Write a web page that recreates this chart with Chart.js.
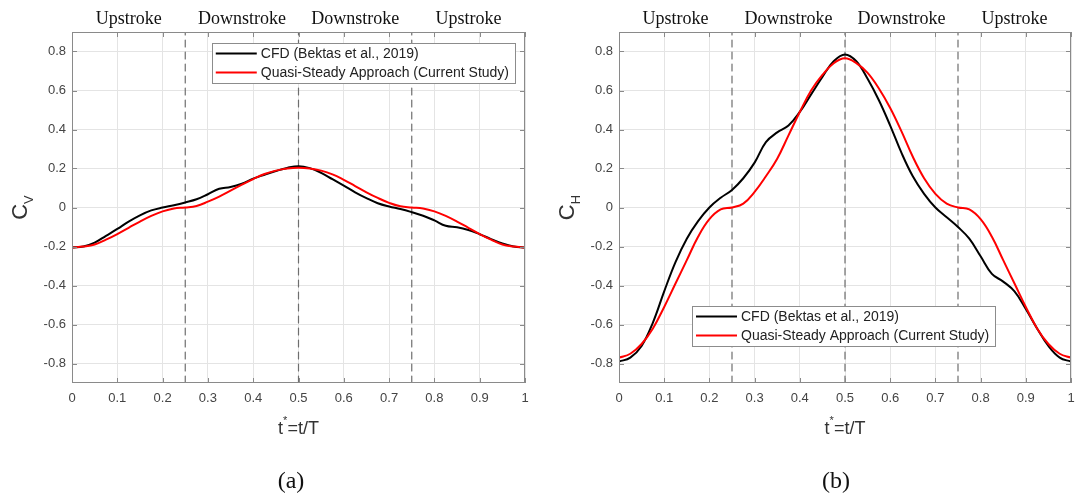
<!DOCTYPE html>
<html>
<head>
<meta charset="utf-8">
<script src="https://cdn.jsdelivr.net/npm/chart.js@4.4.1/dist/chart.umd.min.js"></script>
<style>
    html, body { margin: 0; padding: 0; background: #fff; }
    body { width: 1083px; height: 497px; position: relative; overflow: hidden; }
    canvas { position: absolute; top: 0; }
    #cv-chart { left: 0; }
    #ch-chart { left: 547px; }
</style>
</head>
<body>
<canvas id="cv-chart" width="540" height="497"></canvas>
<canvas id="ch-chart" width="536" height="497"></canvas>
<script>
// non-dimensional time over one flapping period
const tStar = [
    0, 0.025, 0.05, 0.075, 0.1, 0.125, 0.15, 0.175, 0.2, 0.225,
    0.25, 0.275, 0.3, 0.325, 0.35, 0.375, 0.4, 0.425, 0.45, 0.475,
    0.5, 0.525, 0.55, 0.575, 0.6, 0.625, 0.65, 0.675, 0.7, 0.725,
    0.75, 0.775, 0.8, 0.825, 0.85, 0.875, 0.9, 0.925, 0.95, 0.975, 1
];

// vertical force coefficient C_V
const cvCfd = [
    -0.205, -0.200, -0.180, -0.145, -0.110, -0.072, -0.040, -0.015, 0.000, 0.012,
    0.026, 0.042, 0.068, 0.096, 0.105, 0.122, 0.148, 0.168, 0.187, 0.203,
    0.212, 0.202, 0.178, 0.145, 0.112, 0.078, 0.048, 0.022, 0.005, -0.008,
    -0.024, -0.042, -0.066, -0.094, -0.101, -0.115, -0.137, -0.162, -0.185, -0.200, -0.205
];
const cvQuasi = [
    -0.205, -0.200, -0.190, -0.165, -0.136, -0.104, -0.072, -0.043, -0.020, -0.005,
    0.000, 0.008, 0.030, 0.056, 0.086, 0.117, 0.146, 0.172, 0.189, 0.200,
    0.204, 0.200, 0.189, 0.170, 0.142, 0.110, 0.078, 0.049, 0.024, 0.006,
    0.000, -0.005, -0.020, -0.043, -0.072, -0.104, -0.136, -0.165, -0.190, -0.200, -0.205
];

// horizontal force coefficient C_H
const chCfd = [
    -0.79, -0.77, -0.71, -0.59, -0.43, -0.28, -0.16, -0.07, 0.00, 0.05,
    0.09, 0.15, 0.23, 0.335, 0.385, 0.42, 0.49, 0.58, 0.67, 0.75,
    0.785, 0.75, 0.66, 0.55, 0.42, 0.28, 0.16, 0.07, 0.00, -0.05,
    -0.10, -0.16, -0.25, -0.34, -0.38, -0.43, -0.52, -0.62, -0.71, -0.77, -0.79
];
const chQuasi = [
    -0.77, -0.75, -0.70, -0.62, -0.51, -0.39, -0.27, -0.15, -0.06, -0.01,
    0.00, 0.02, 0.08, 0.16, 0.25, 0.37, 0.49, 0.60, 0.68, 0.74,
    0.765, 0.74, 0.69, 0.61, 0.51, 0.39, 0.26, 0.15, 0.07, 0.02,
    0.00, -0.01, -0.06, -0.15, -0.27, -0.39, -0.51, -0.62, -0.70, -0.75, -0.77
];

const xTicks = [0, 0.1, 0.2, 0.3, 0.4, 0.5, 0.6, 0.7, 0.8, 0.9, 1];
const yTicks = [-0.8, -0.6, -0.4, -0.2, 0, 0.2, 0.4, 0.6, 0.8];
const yRange = [-0.9, 0.9];

const phaseBounds = [0.25, 0.5, 0.75];
const phaseCenters = [0.125, 0.375, 0.625, 0.875];
const phaseNames = ['Upstroke', 'Downstroke', 'Downstroke', 'Upstroke'];

const seriesLabels = ['CFD (Bektas et al., 2019)', 'Quasi-Steady Approach (Current Study)'];
const seriesColors = ['#000000', '#ff0000'];

const SANS = '"Liberation Sans", Arial, sans-serif';
const SERIF = '"Liberation Serif", "Times New Roman", serif';
const FRAME = '#8a8a8a';

// box, inward ticks, phase names, axis titles and the in-plot legend
const figurePlugin = {
    id: 'figure',
    afterDatasetsDraw(chart, args, o) {
        const { ctx, chartArea: a, scales: { x, y } } = chart;
        ctx.save();
        ctx.strokeStyle = FRAME;
        ctx.lineWidth = 1;
        ctx.strokeRect(a.left + 0.5, a.top + 0.5, a.width - 1, a.height - 1);
        ctx.beginPath();
        xTicks.forEach(v => {
            const px = Math.round(x.getPixelForValue(v)) + 0.5;
            ctx.moveTo(px, a.bottom); ctx.lineTo(px, a.bottom - 5);
            ctx.moveTo(px, a.top); ctx.lineTo(px, a.top + 5);
        });
        yTicks.forEach(v => {
            const py = Math.round(y.getPixelForValue(v)) + 0.5;
            ctx.moveTo(a.left, py); ctx.lineTo(a.left + 5, py);
            ctx.moveTo(a.right, py); ctx.lineTo(a.right - 5, py);
        });
        ctx.stroke();
        ctx.restore();
    },
    afterDraw(chart, args, o) {
        const { ctx, chartArea: a, scales: { x } } = chart;
        ctx.save();

        // stroke phases above the axes
        ctx.fillStyle = '#111';
        ctx.font = '18px ' + SERIF;
        ctx.textAlign = 'center';
        ctx.textBaseline = 'alphabetic';
        phaseCenters.forEach((c, i) => {
            ctx.fillText(phaseNames[i], x.getPixelForValue(c), 24);
        });

        // panel letter
        ctx.font = '24px ' + SERIF;
        ctx.fillText(o.panel, o.panelX, 488);

        // x title: t*=t/T
        ctx.fillStyle = '#333';
        ctx.textAlign = 'left';
        const p1 = 't', p3 = '=t/T';
        ctx.font = '18px ' + SANS;
        const w1 = ctx.measureText(p1).width;
        const w3 = ctx.measureText(p3).width;
        ctx.font = '11px ' + SANS;
        const w2 = ctx.measureText('*').width;
        const tx = (a.left + a.right) / 2 - (w1 + w2 + w3) / 2;
        ctx.font = '18px ' + SANS;
        ctx.fillText(p1, tx, 434);
        ctx.font = '11px ' + SANS;
        ctx.fillText('*', tx + w1, 424);
        ctx.font = '18px ' + SANS;
        ctx.fillText(p3, tx + w1 + w2, 434);

        // y title: C with subscript
        ctx.save();
        ctx.translate(a.left - 45, (a.top + a.bottom) / 2);
        ctx.rotate(-Math.PI / 2);
        ctx.font = '22px ' + SANS;
        const wc = ctx.measureText('C').width;
        ctx.font = '13px ' + SANS;
        const ws = ctx.measureText(o.sub).width;
        const u0 = -(wc + ws) / 2;
        ctx.font = '22px ' + SANS;
        ctx.fillText('C', u0, 0);
        ctx.font = '13px ' + SANS;
        ctx.fillText(o.sub, u0 + wc, 6);
        ctx.restore();

        // legend box
        ctx.font = '14px ' + SANS;
        const textW = Math.max(...seriesLabels.map(s => ctx.measureText(s).width));
        const boxW = 4 + 41 + 4 + textW + 6;
        const boxH = 40;
        const bx = o.legendRight != null ? o.legendRight - boxW : o.legendLeft;
        const by = o.legendTop;
        ctx.fillStyle = '#fff';
        ctx.fillRect(bx, by, boxW, boxH);
        ctx.strokeStyle = '#8c8c8c';
        ctx.lineWidth = 1;
        ctx.strokeRect(Math.round(bx) + 0.5, by + 0.5, Math.round(boxW), boxH);
        seriesLabels.forEach((s, i) => {
            const ly = by + 10.5 + i * 19;
            ctx.strokeStyle = seriesColors[i];
            ctx.lineWidth = 2;
            ctx.beginPath();
            ctx.moveTo(bx + 4, ly);
            ctx.lineTo(bx + 45, ly);
            ctx.stroke();
            ctx.fillStyle = '#222';
            ctx.textBaseline = 'middle';
            ctx.fillText(s, bx + 49, ly + 0.5);
        });
        ctx.restore();
    }
};

function points(values) {
    return tStar.map((t, i) => ({ x: t, y: values[i] }));
}

function buildChart(id, cfd, quasi, fig, padRight) {
    const datasets = [
        {
            label: seriesLabels[1],
            data: points(quasi),
            borderColor: seriesColors[1],
            borderWidth: 2,
            order: 0
        },
        {
            label: seriesLabels[0],
            data: points(cfd),
            borderColor: seriesColors[0],
            borderWidth: 2,
            order: 1
        }
    ];
    phaseBounds.forEach(b => {
        datasets.push({
            label: 'phase',
            data: [{ x: b, y: yRange[0] }, { x: b, y: yRange[1] }],
            borderColor: '#6e6e6e',
            borderWidth: 1.2,
            borderDash: [7, 5],
            tension: 0,
            order: 2
        });
    });

    return new Chart(document.getElementById(id), {
        type: 'line',
        data: { datasets },
        options: {
            responsive: false,
            animation: false,
            layout: { padding: { left: 0, right: padRight, top: 32, bottom: 0 } },
            elements: {
                point: { radius: 0 },
                line: { tension: 0.4, fill: false, borderCapStyle: 'round', borderJoinStyle: 'round' }
            },
            plugins: {
                legend: { display: false },
                tooltip: { enabled: false },
                figure: fig
            },
            scales: {
                x: {
                    type: 'linear',
                    min: 0,
                    max: 1,
                    afterBuildTicks: s => { s.ticks = xTicks.map(v => ({ value: v })); },
                    afterFit: s => { s.height = 114; },
                    grid: { color: '#e4e4e4', drawTicks: false },
                    border: { display: false },
                    ticks: {
                        padding: 8,
                        color: '#444',
                        font: { family: SANS, size: 13 },
                        callback: v => String(v)
                    }
                },
                y: {
                    type: 'linear',
                    min: yRange[0],
                    max: yRange[1],
                    afterBuildTicks: s => { s.ticks = yTicks.map(v => ({ value: v })); },
                    afterFit: s => { s.width = 72; },
                    grid: { color: '#e4e4e4', drawTicks: false },
                    border: { display: false },
                    ticks: {
                        padding: 6,
                        color: '#444',
                        font: { family: SANS, size: 13 },
                        callback: v => (Math.abs(v) < 1e-9 ? '0' : v.toFixed(1))
                    }
                }
            }
        },
        plugins: [figurePlugin]
    });
}

buildChart('cv-chart', cvCfd, cvQuasi,
    { panel: '(a)', panelX: 291, sub: 'V', legendRight: 515, legendTop: 43 }, 15);
buildChart('ch-chart', chCfd, chQuasi,
    { panel: '(b)', panelX: 289, sub: 'H', legendLeft: 145, legendTop: 306 }, 12);
</script>
</body>
</html>
